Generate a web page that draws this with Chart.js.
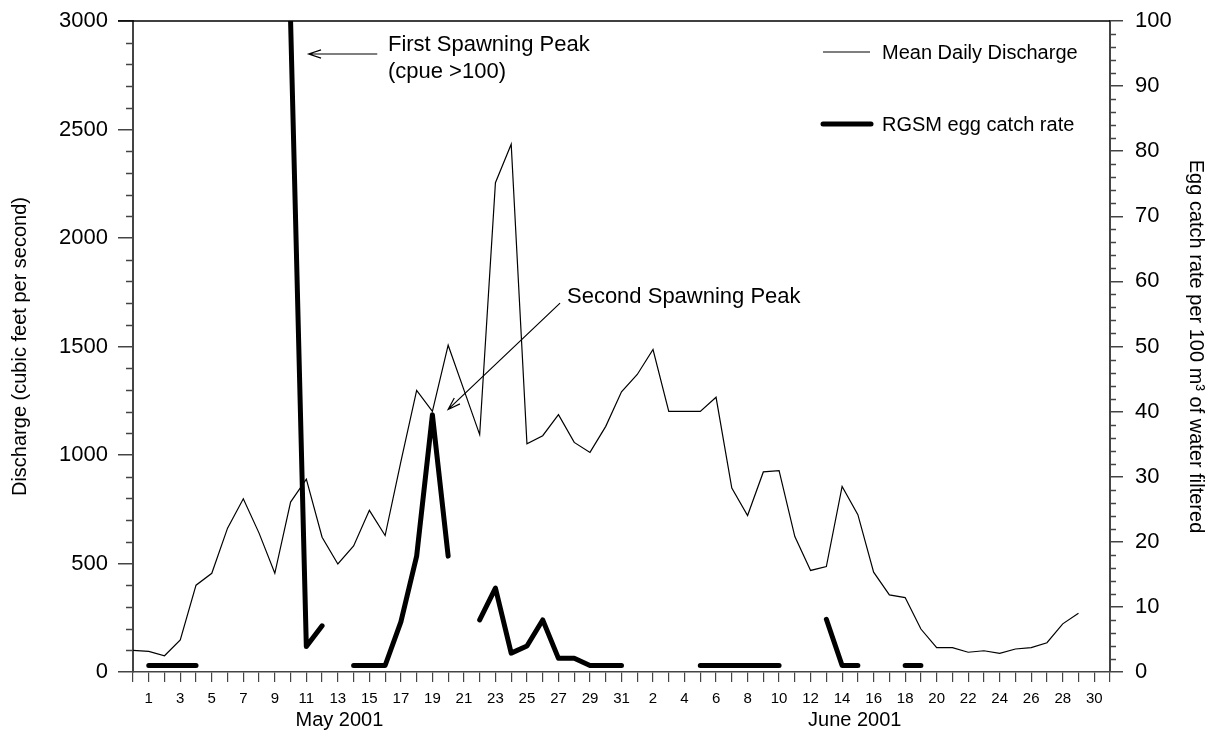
<!DOCTYPE html>
<html lang="en">
<head>
  <meta charset="UTF-8">
  <title>Discharge and RGSM egg catch rate</title>
  <script src="https://cdn.jsdelivr.net/npm/chart.js"></script>
</head>
<style>
  body { margin: 0; background: #fff; }
  .wrap { width: 1216px; height: 746px; }
</style>
<body>
<div class="wrap">
  <canvas id="flowChart"></canvas>
</div>

<script>
  // Apr 30 .. Jul 1, one entry per day
  const days = ['30',
    '1','2','3','4','5','6','7','8','9','10','11','12','13','14','15','16',
    '17','18','19','20','21','22','23','24','25','26','27','28','29','30','31',
    '1','2','3','4','5','6','7','8','9','10','11','12','13','14','15',
    '16','17','18','19','20','21','22','23','24','25','26','27','28','29','30',
    '1'];

  // mean daily discharge, cfs
  const discharge = [100,
    95, 75, 148, 400, 455, 663, 798, 640, 455, 783, 889, 621, 498, 581, 745, 629,
    970, 1298, 1201, 1506, 1300, 1094, 2255, 2432, 1052, 1089, 1186, 1058, 1012, 1132, 1291,
    1371, 1486, 1201, 1201, 1201, 1266, 848, 721, 922, 928, 624, 468, 486, 855, 725,
    460, 355, 343, 198, 112, 112, 91, 98, 86, 106, 112, 135, 222, 271, null,
    null];

  // RGSM eggs per 100 m3 (null = no sample)
  const eggRate = [null,
    1, 1, 1, 1, null, null, null, null, null, 100, 3.9, 7.1, null, 1, 1, 1,
    7.7, 17.8, 39.5, 17.8, null, 8, 12.9, 2.9, 4, 8, 2.1, 2.1, 1, 1, 1,
    null, null, null, null, 1, 1, 1, 1, 1, 1, null, null, 8.1, 1, 1,
    null, null, 1, 1, null, null, null, null, null, null, null, null, null, null, null,
    null];

  const months = [['May 2001', 13.1], ['June 2001', 45.8]];

  const FONT = 'Liberation Sans, Arial, sans-serif';
  const AXIS = '#444';

  // minor ticks, top frame line, legend, annotations, month names
  const extras = {
    id: 'extras',
    afterDraw(chart) {
      const ctx = chart.ctx;
      const x = chart.scales.x, yL = chart.scales.y, yR = chart.scales.y2;
      const area = chart.chartArea;
      ctx.save();
      ctx.strokeStyle = AXIS;
      ctx.lineWidth = 1.5;
      ctx.beginPath();
      for (let v = 0; v <= 3000; v += 100) {
        if (v % 500 === 0) continue;
        const py = Math.round(yL.getPixelForValue(v)) + 0.5;
        ctx.moveTo(area.left, py); ctx.lineTo(area.left - 7, py);
      }
      for (let v = 0; v <= 100; v += 2) {
        if (v % 10 === 0) continue;
        const py = Math.round(yR.getPixelForValue(v)) + 0.5;
        ctx.moveTo(area.right, py); ctx.lineTo(area.right + 6, py);
      }
      ctx.stroke();

      // top frame
      ctx.strokeStyle = '#000';
      ctx.lineWidth = 1.5;
      ctx.beginPath();
      ctx.moveTo(area.left - 15, area.top); ctx.lineTo(area.right, area.top);
      ctx.stroke();

      // legend
      ctx.fillStyle = '#000';
      ctx.font = '20px ' + FONT;
      ctx.textBaseline = 'middle';
      ctx.textAlign = 'left';
      const lx = area.right - 287;
      ctx.lineCap = 'butt';
      ctx.lineWidth = 1.2;
      ctx.beginPath(); ctx.moveTo(lx, 52); ctx.lineTo(lx + 47, 52); ctx.stroke();
      ctx.fillText('Mean Daily Discharge', lx + 59, 53);
      ctx.lineCap = 'round';
      ctx.lineWidth = 5;
      ctx.beginPath(); ctx.moveTo(lx, 124); ctx.lineTo(lx + 48, 124); ctx.stroke();
      ctx.fillText('RGSM egg catch rate', lx + 59, 125);

      // annotations
      ctx.font = '22px ' + FONT;
      ctx.fillText('First Spawning Peak', x.getPixelForValue(16.18), yL.getPixelForValue(2890));
      ctx.fillText('(cpue >100)', x.getPixelForValue(16.18), yL.getPixelForValue(2765));
      ctx.fillText('Second Spawning Peak', x.getPixelForValue(27.54), yL.getPixelForValue(1727));

      function arrow(x0, y0, x1, y1) {
        const a = Math.atan2(y1 - y0, x1 - x0), L = 13, w = 0.32;
        ctx.lineWidth = 1.2;
        ctx.lineCap = 'butt';
        ctx.beginPath();
        ctx.moveTo(x0, y0); ctx.lineTo(x1, y1);
        ctx.moveTo(x1 - L * Math.cos(a - w), y1 - L * Math.sin(a - w));
        ctx.lineTo(x1, y1);
        ctx.lineTo(x1 - L * Math.cos(a + w), y1 - L * Math.sin(a + w));
        ctx.stroke();
      }
      arrow(x.getPixelForValue(15.5), yL.getPixelForValue(2848), x.getPixelForValue(11.15), yL.getPixelForValue(2848));
      arrow(x.getPixelForValue(27.1), yL.getPixelForValue(1700), x.getPixelForValue(20.0), yL.getPixelForValue(1210));

      // month names under the axis
      ctx.font = '20px ' + FONT;
      ctx.textAlign = 'center';
      months.forEach(m => ctx.fillText(m[0], x.getPixelForValue(m[1]), area.bottom + 48));
      ctx.restore();
    }
  };

  function fixY(width) {
    return function (s) {
      s.width = width;
      s.paddingTop = 0;
      s.paddingBottom = 0;
    };
  }

  const ctx = document.getElementById('flowChart').getContext('2d');
  new Chart(ctx, {
    type: 'line',
    data: {
      labels: days,
      datasets: [{
        label: 'RGSM egg catch rate',
        data: eggRate,
        yAxisID: 'y2',
        borderColor: '#000',
        borderWidth: 5,
        borderCapStyle: 'round',
        borderJoinStyle: 'round',
        pointRadius: 0,
        spanGaps: false,
        order: 0
      }, {
        label: 'Mean Daily Discharge',
        data: discharge,
        yAxisID: 'y',
        borderColor: '#000',
        borderWidth: 1.2,
        pointRadius: 0,
        order: 1
      }]
    },
    options: {
      responsive: true,
      maintainAspectRatio: false,
      animation: false,
      layout: { padding: { top: 21, left: 0, right: 0, bottom: 0 } },
      plugins: { legend: { display: false }, tooltip: { enabled: false } },
      scales: {
        x: {
          afterFit(s) { s.height = 74; s.paddingLeft = 0; s.paddingRight = 0; },
          grid: { drawOnChartArea: false, tickLength: 10, color: AXIS, lineWidth: 1.2 },
          border: { color: AXIS, width: 1.5 },
          ticks: {
            autoSkip: false, maxRotation: 0, padding: 8,
            color: '#000', font: { family: FONT, size: 15 },
            callback(val, i) { return i % 2 === 1 ? days[i] : ''; }
          }
        },
        y: {
          position: 'left',
          min: 0, max: 3000,
          afterFit: fixY(133),
          grid: { drawOnChartArea: false, tickLength: 15, color: AXIS, lineWidth: 1.5 },
          border: { color: AXIS, width: 2 },
          ticks: {
            stepSize: 500, padding: 10, color: '#000', font: { family: FONT, size: 22 },
            callback(v) { return String(v); }
          },
          title: {
            display: true, text: 'Discharge (cubic feet per second)',
            color: '#000', font: { family: FONT, size: 20 }, padding: { top: 8, bottom: 0 }
          }
        },
        y2: {
          position: 'right',
          min: 0, max: 100,
          afterFit: fixY(106),
          grid: { drawOnChartArea: false, tickLength: 13, color: AXIS, lineWidth: 1.5 },
          border: { color: AXIS, width: 2 },
          ticks: { stepSize: 10, padding: 12, color: '#000', font: { family: FONT, size: 22 } },
          title: {
            display: true, text: 'Egg catch rate per 100 m\u00B3 of water filtered',
            color: '#000', font: { family: FONT, size: 20 }, padding: { top: 8, bottom: 0 }
          }
        }
      }
    },
    plugins: [extras]
  });
</script>
</body>
</html>
